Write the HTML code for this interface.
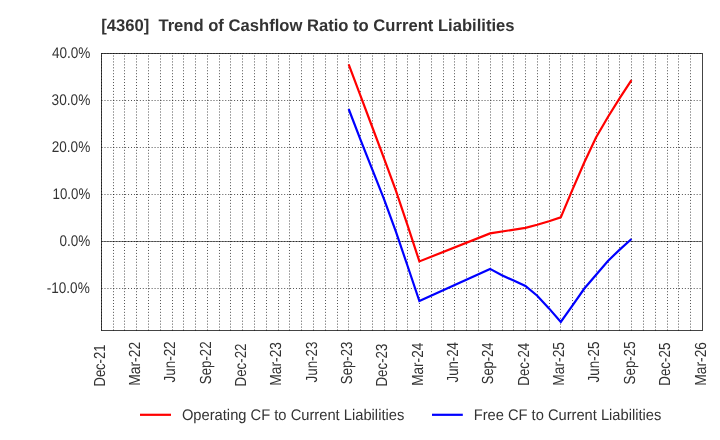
<!DOCTYPE html>
<html><head><meta charset="utf-8"><title>chart</title>
<style>html,body{margin:0;padding:0;background:#fff;}svg{display:block;will-change:transform;}text{filter:grayscale(1);text-rendering:geometricPrecision;}</style></head>
<body>
<svg width="720" height="440" viewBox="0 0 720 440">
<rect width="720" height="440" fill="#fff"/>
<rect x="101.5" y="53.5" width="601.0" height="277.0" fill="none" stroke="#444" stroke-width="1"/>
<path d="M101.5 241.5H702.5" stroke="#808080" stroke-width="1" fill="none"/>
<g stroke="#000" stroke-opacity="0.68" stroke-width="1" fill="none">
<g stroke-dasharray="1 1.946">
<path d="M101.5 53V330.5" stroke-dashoffset="0.41"/>
<path d="M113.5 53V330.5" stroke-dashoffset="0.41"/>
<path d="M124.5 53V330.5" stroke-dashoffset="0.41"/>
<path d="M136.5 53V330.5" stroke-dashoffset="0.41"/>
<path d="M148.5 53V330.5" stroke-dashoffset="0.41"/>
<path d="M160.5 53V330.5" stroke-dashoffset="0.41"/>
<path d="M172.5 53V330.5" stroke-dashoffset="0.41"/>
<path d="M183.5 53V330.5" stroke-dashoffset="0.41"/>
<path d="M195.5 53V330.5" stroke-dashoffset="0.41"/>
<path d="M207.5 53V330.5" stroke-dashoffset="0.41"/>
<path d="M219.5 53V330.5" stroke-dashoffset="0.41"/>
<path d="M230.5 53V330.5" stroke-dashoffset="0.41"/>
<path d="M242.5 53V330.5" stroke-dashoffset="0.41"/>
<path d="M254.5 53V330.5" stroke-dashoffset="0.41"/>
<path d="M266.5 53V330.5" stroke-dashoffset="0.41"/>
<path d="M278.5 53V330.5" stroke-dashoffset="0.41"/>
<path d="M289.5 53V330.5" stroke-dashoffset="0.41"/>
<path d="M301.5 53V330.5" stroke-dashoffset="0.41"/>
<path d="M313.5 53V330.5" stroke-dashoffset="0.41"/>
<path d="M325.5 53V330.5" stroke-dashoffset="0.41"/>
<path d="M337.5 53V330.5" stroke-dashoffset="0.41"/>
<path d="M348.5 53V330.5" stroke-dashoffset="0.41"/>
<path d="M360.5 53V330.5" stroke-dashoffset="0.41"/>
<path d="M372.5 53V330.5" stroke-dashoffset="0.41"/>
<path d="M384.5 53V330.5" stroke-dashoffset="0.41"/>
<path d="M396.5 53V330.5" stroke-dashoffset="0.41"/>
<path d="M407.5 53V330.5" stroke-dashoffset="0.41"/>
<path d="M419.5 53V330.5" stroke-dashoffset="0.41"/>
<path d="M431.5 53V330.5" stroke-dashoffset="0.41"/>
<path d="M443.5 53V330.5" stroke-dashoffset="0.41"/>
<path d="M454.5 53V330.5" stroke-dashoffset="0.41"/>
<path d="M466.5 53V330.5" stroke-dashoffset="0.41"/>
<path d="M478.5 53V330.5" stroke-dashoffset="0.41"/>
<path d="M490.5 53V330.5" stroke-dashoffset="0.41"/>
<path d="M502.5 53V330.5" stroke-dashoffset="0.41"/>
<path d="M513.5 53V330.5" stroke-dashoffset="0.41"/>
<path d="M525.5 53V330.5" stroke-dashoffset="0.41"/>
<path d="M537.5 53V330.5" stroke-dashoffset="0.41"/>
<path d="M549.5 53V330.5" stroke-dashoffset="0.41"/>
<path d="M560.5 53V330.5" stroke-dashoffset="0.41"/>
<path d="M572.5 53V330.5" stroke-dashoffset="0.41"/>
<path d="M584.5 53V330.5" stroke-dashoffset="0.41"/>
<path d="M596.5 53V330.5" stroke-dashoffset="0.41"/>
<path d="M608.5 53V330.5" stroke-dashoffset="0.41"/>
<path d="M619.5 53V330.5" stroke-dashoffset="0.41"/>
<path d="M631.5 53V330.5" stroke-dashoffset="0.41"/>
<path d="M643.5 53V330.5" stroke-dashoffset="0.41"/>
<path d="M655.5 53V330.5" stroke-dashoffset="0.41"/>
<path d="M667.5 53V330.5" stroke-dashoffset="0.41"/>
<path d="M678.5 53V330.5" stroke-dashoffset="0.41"/>
<path d="M690.5 53V330.5" stroke-dashoffset="0.41"/>
</g>
<g stroke-dasharray="1 1.946">
<path d="M101.55 53.5H702.0"/>
<path d="M101.55 100.5H702.0"/>
<path d="M101.55 147.5H702.0"/>
<path d="M101.55 194.5H702.0"/>
<path d="M101.55 241.5H702.0"/>
<path d="M101.55 288.5H702.0"/>
</g>
</g>
<polyline points="348.67,109.00 360.45,139.60 372.24,169.30 384.02,199.10 395.81,231.40 407.59,266.00 419.38,301.10 490.08,268.90 501.87,275.20 513.65,280.60 525.44,286.00 537.22,295.70 549.00,308.40 560.79,322.00 572.57,305.30 584.36,288.50 596.14,274.70 607.93,261.00 619.71,249.60 631.49,239.00" fill="none" stroke="#0000ff" stroke-width="2.2" stroke-linejoin="miter"/>
<polyline points="348.67,64.40 360.45,95.70 372.24,127.00 384.02,158.40 395.81,190.40 407.59,225.30 419.38,261.40 490.08,233.40 525.44,227.80 537.22,224.70 549.00,221.30 560.79,217.40 572.57,189.40 584.36,162.20 596.14,137.20 607.93,117.00 619.71,98.20 631.49,80.10" fill="none" stroke="#ff0000" stroke-width="2.2" stroke-linejoin="miter"/>
<text transform="translate(101.17,30.6) scale(0.9832,1)" font-family="Liberation Sans, sans-serif" font-weight="bold" font-size="16.9" fill="#333" xml:space="preserve" style="white-space:pre">[4360]  Trend of Cashflow Ratio to Current Liabilities</text>
<text transform="translate(51.89,57.5) scale(0.8816,1)" font-family="Liberation Sans, sans-serif" font-size="15.4" fill="#333" xml:space="preserve" style="white-space:pre">40.0%</text>
<text transform="translate(51.58,104.5) scale(0.8864,1)" font-family="Liberation Sans, sans-serif" font-size="15.4" fill="#333" xml:space="preserve" style="white-space:pre">30.0%</text>
<text transform="translate(51.72,151.5) scale(0.8833,1)" font-family="Liberation Sans, sans-serif" font-size="15.4" fill="#333" xml:space="preserve" style="white-space:pre">20.0%</text>
<text transform="translate(52.59,198.5) scale(0.8631,1)" font-family="Liberation Sans, sans-serif" font-size="15.4" fill="#333" xml:space="preserve" style="white-space:pre">10.0%</text>
<text transform="translate(59.57,245.5) scale(0.8777,1)" font-family="Liberation Sans, sans-serif" font-size="15.4" fill="#333" xml:space="preserve" style="white-space:pre">0.0%</text>
<text transform="translate(46.70,292.5) scale(0.8831,1)" font-family="Liberation Sans, sans-serif" font-size="15.4" fill="#333" xml:space="preserve" style="white-space:pre">-10.0%</text>
<text transform="translate(105.15,386.46) rotate(-90) scale(0.8104,1)" font-family="Liberation Sans, sans-serif" font-size="16" fill="#333">Dec-21</text>
<text transform="translate(140.15,385.74) rotate(-90) scale(0.8659,1)" font-family="Liberation Sans, sans-serif" font-size="16" fill="#333">Mar-22</text>
<text transform="translate(175.15,382.41) rotate(-90) scale(0.8377,1)" font-family="Liberation Sans, sans-serif" font-size="16" fill="#333">Jun-22</text>
<text transform="translate(211.15,384.20) rotate(-90) scale(0.8290,1)" font-family="Liberation Sans, sans-serif" font-size="16" fill="#333">Sep-22</text>
<text transform="translate(246.15,386.49) rotate(-90) scale(0.8330,1)" font-family="Liberation Sans, sans-serif" font-size="16" fill="#333">Dec-22</text>
<text transform="translate(281.15,385.73) rotate(-90) scale(0.8641,1)" font-family="Liberation Sans, sans-serif" font-size="16" fill="#333">Mar-23</text>
<text transform="translate(317.15,382.41) rotate(-90) scale(0.8360,1)" font-family="Liberation Sans, sans-serif" font-size="16" fill="#333">Jun-23</text>
<text transform="translate(352.15,384.20) rotate(-90) scale(0.8273,1)" font-family="Liberation Sans, sans-serif" font-size="16" fill="#333">Sep-23</text>
<text transform="translate(387.15,386.49) rotate(-90) scale(0.8313,1)" font-family="Liberation Sans, sans-serif" font-size="16" fill="#333">Dec-23</text>
<text transform="translate(423.15,385.71) rotate(-90) scale(0.8467,1)" font-family="Liberation Sans, sans-serif" font-size="16" fill="#333">Mar-24</text>
<text transform="translate(458.15,382.41) rotate(-90) scale(0.8226,1)" font-family="Liberation Sans, sans-serif" font-size="16" fill="#333">Jun-24</text>
<text transform="translate(493.15,384.19) rotate(-90) scale(0.8056,1)" font-family="Liberation Sans, sans-serif" font-size="16" fill="#333">Sep-24</text>
<text transform="translate(529.15,385.69) rotate(-90) scale(0.8314,1)" font-family="Liberation Sans, sans-serif" font-size="16" fill="#333">Dec-24</text>
<text transform="translate(564.15,385.73) rotate(-90) scale(0.8635,1)" font-family="Liberation Sans, sans-serif" font-size="16" fill="#333">Mar-25</text>
<text transform="translate(599.15,382.41) rotate(-90) scale(0.8354,1)" font-family="Liberation Sans, sans-serif" font-size="16" fill="#333">Jun-25</text>
<text transform="translate(635.15,384.41) rotate(-90) scale(0.8327,1)" font-family="Liberation Sans, sans-serif" font-size="16" fill="#333">Sep-25</text>
<text transform="translate(670.15,385.70) rotate(-90) scale(0.8348,1)" font-family="Liberation Sans, sans-serif" font-size="16" fill="#333">Dec-25</text>
<text transform="translate(706.15,385.73) rotate(-90) scale(0.8641,1)" font-family="Liberation Sans, sans-serif" font-size="16" fill="#333">Mar-26</text>
<path d="M140 414.8H171" stroke="#ff0000" stroke-width="2.2"/>
<text transform="translate(181.90,419.6) scale(0.9558,1)" font-family="Liberation Sans, sans-serif" font-size="15.4" fill="#333" xml:space="preserve" style="white-space:pre">Operating CF to Current Liabilities</text>
<path d="M432 414.8H462.8" stroke="#0000ff" stroke-width="2.2"/>
<text transform="translate(473.70,419.6) scale(0.9537,1)" font-family="Liberation Sans, sans-serif" font-size="15.4" fill="#333" xml:space="preserve" style="white-space:pre">Free CF to Current Liabilities</text>
</svg>
</body></html>
